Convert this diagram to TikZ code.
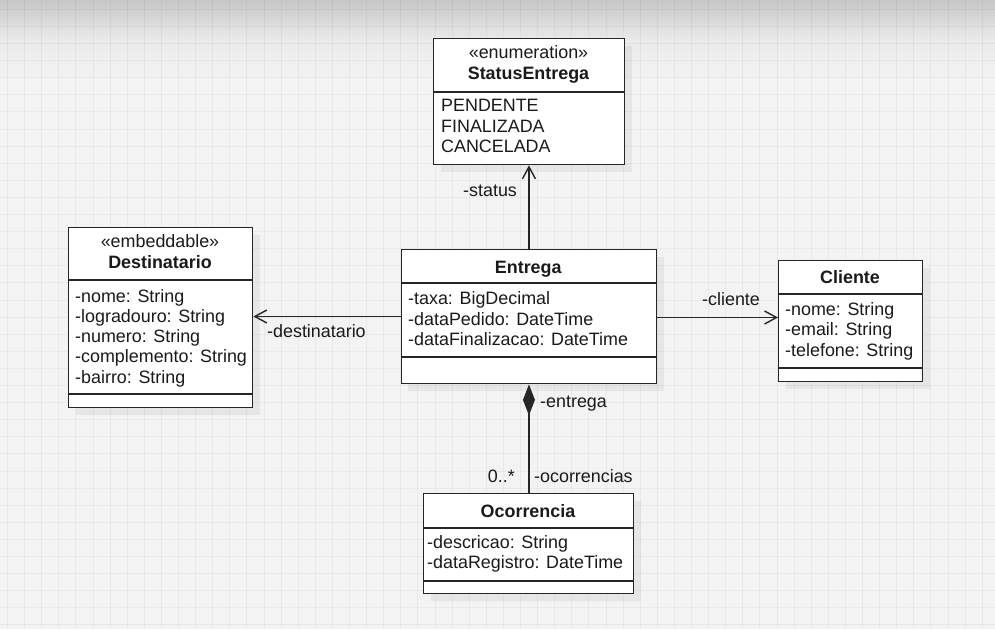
\documentclass[tikz,border=0pt]{standalone}
\usepackage{fontspec}
\setmainfont{Liberation Sans}
\usetikzlibrary{arrows.meta,shadows}
\definecolor{bgc}{HTML}{F3F3F3}
\definecolor{ink}{HTML}{262626}
\definecolor{txt}{HTML}{1A1A1A}
\tikzset{
  umlbox/.style={draw=ink, line width=1.4pt, fill=white, anchor=north west, inner sep=0pt,
    drop shadow={shadow xshift=7pt, shadow yshift=-7pt, fill=black, opacity=0.05}},
  divider/.style={draw=ink, line width=1.4pt},
  attr/.style={text=txt, anchor=base west, inner sep=0pt, font=\fontsize{17.9}{20.5}\selectfont},
  hdr/.style={text=txt, anchor=base, inner sep=0pt, font=\fontsize{17.9}{20.5}\selectfont},
  hdrb/.style={hdr, font=\fontsize{17.9}{20.5}\selectfont\bfseries},
  lbl/.style={attr},
  assoc/.style={draw=ink, line width=1.4pt, -{Straight Barb[length=12pt,width=13pt,line width=1.4pt]}},
  compo/.style={draw=ink, line width=1.4pt, {Diamond[length=31pt,width=12pt,fill=ink]}-},
}
\begin{document}
\begin{tikzpicture}[x=1pt,y=-1pt]
\useasboundingbox (0,0) rectangle (995,629);
% background
\fill[bgc] (0,0) rectangle (995,629);
\shade[top color=black!22, bottom color=bgc, middle color=black!8] (0,0) rectangle (995,80);
\foreach \i in {0,...,58} \draw[black, opacity=0.04, line width=0.9pt] ({7.5+17.1*\i},0) -- ++(0,629);
\foreach \j in {0,...,36} \draw[black, opacity=0.04, line width=0.9pt] (0,{9.3+17.1*\j}) -- ++(995,0);

% StatusEntrega
\node[umlbox, minimum width=191pt, minimum height=126pt] (st) at (433,38) {};
\draw[divider] (st.west |- 0,92) -- (st.east |- 0,92);
\node[hdr] (st0) at (528.5,58) {«enumeration»};
\node[hdrb] (st00) at (528.5,79.5) {StatusEntrega};
\foreach \t [count=\i] in {PENDENTE,FINALIZADA,CANCELADA}
  \node[attr, name=st\i] at (441,{111.5+20.6*(\i-1)}) {\t};

% Entrega
\node[umlbox, minimum width=255.5pt, minimum height=134pt] (en) at (400.5,249) {};
\draw[divider] (en.west |- 0,283) -- (en.east |- 0,283);
\draw[divider] (en.west |- 0,357) -- (en.east |- 0,357);
\node[hdrb] (en0) at (528.25,273) {Entrega};
\foreach \t [count=\i] in {-taxa: BigDecimal,-dataPedido: DateTime,-dataFinalizacao: DateTime}
  \node[attr, name=en\i] at (408,{304.5+20.6*(\i-1)}) {\t};

% Destinatario
\node[umlbox, minimum width=184pt, minimum height=180pt] (de) at (68,227) {};
\draw[divider] (de.west |- 0,280) -- (de.east |- 0,280);
\draw[divider] (de.west |- 0,394) -- (de.east |- 0,394);
\node[hdr] (de0) at (160,247) {«embeddable»};
\node[hdrb] (de00) at (160,268) {Destinatario};
\foreach \t [count=\i] in {-nome: String,-logradouro: String,-numero: String,-complemento: String,-bairro: String}
  \node[attr, name=de\i] at (75,{302+20.3*(\i-1)}) {\t};

% Cliente
\node[umlbox, minimum width=144pt, minimum height=121pt] (cl) at (778,260) {};
\draw[divider] (cl.west |- 0,294) -- (cl.east |- 0,294);
\draw[divider] (cl.west |- 0,368) -- (cl.east |- 0,368);
\node[hdrb] (cl0) at (850,283) {Cliente};
\foreach \t [count=\i] in {-nome: String,-email: String,-telefone: String}
  \node[attr, name=cl\i] at (785,{315+20.5*(\i-1)}) {\t};

% Ocorrencia
\node[umlbox, minimum width=210pt, minimum height=100pt] (oc) at (423,493) {};
\draw[divider] (oc.west |- 0,528) -- (oc.east |- 0,528);
\draw[divider] (oc.west |- 0,581) -- (oc.east |- 0,581);
\node[hdrb] (oc0) at (528,517) {Ocorrencia};
\foreach \t [count=\i] in {-descricao: String,-dataRegistro: DateTime}
  \node[attr, name=oc\i] at (427,{548+20.8*(\i-1)}) {\t};

% connectors
\draw[assoc] (en.north) -- (en.north |- st.south);
\draw[assoc] (en.west |- 0,316.5) -- (de.east |- 0,316.5);
\draw[assoc] (en.east |- 0,317.5) -- (cl.west |- 0,317.5);
\draw[compo] (en.south) -- (en.south |- oc.north);

% labels
\node[lbl] (lst) at (463,196) {-status};
\node[lbl] (lde) at (267,337.5) {-destinatario};
\node[lbl] (lcl) at (702,305) {-cliente};
\node[lbl] (len) at (540,407) {-entrega};
\node[lbl, anchor=base east] (lmul) at (515,482) {0..*};
\node[lbl] (loc) at (534,482) {-ocorrencias};
\end{tikzpicture}
\end{document}
